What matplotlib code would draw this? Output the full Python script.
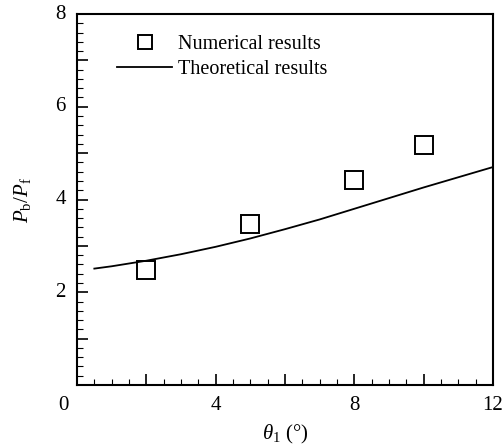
import matplotlib
matplotlib.use("Agg")
import matplotlib.pyplot as plt
from matplotlib.ticker import MultipleLocator
import numpy as np

plt.rcParams['font.family'] = ['Liberation Serif', 'DejaVu Serif']
plt.rcParams['mathtext.fontset'] = 'custom'
plt.rcParams['mathtext.rm'] = 'Liberation Serif'
plt.rcParams['mathtext.it'] = 'Liberation Serif:italic'

# Data
num_x = [2, 5, 8, 10]
num_y = [2.49, 3.48, 4.42, 5.17]
theo_x = [0.5, 1, 2, 3, 4, 5, 6, 7, 8, 9, 10, 11, 12]
theo_y = [2.51, 2.56, 2.68, 2.82, 2.98, 3.16, 3.36, 3.57, 3.80, 4.03, 4.26, 4.48, 4.70]
xtick_labels = ['4', '8', '12']
xtick_vals = [4, 8, 12]
ytick_vals = [2, 4, 6, 8]

fig = plt.figure(figsize=(5.04, 4.46), dpi=100)
ax = fig.add_axes([77/504, 61/446, 416/504, 371/446])

ax.plot(theo_x, theo_y, color='black', lw=1.3, label='Theoretical results')
ax.plot(num_x, num_y, linestyle='none', marker='s', markersize=13.5,
        markerfacecolor='none', markeredgecolor='black', markeredgewidth=1.4,
        label='Numerical results')

ax.set_xlim(0, 12)
ax.set_ylim(0, 8)

ax.xaxis.set_major_locator(MultipleLocator(2))
ax.xaxis.set_minor_locator(MultipleLocator(0.5))
ax.yaxis.set_major_locator(MultipleLocator(1))
ax.yaxis.set_minor_locator(MultipleLocator(0.2))
ax.set_xticklabels([])
ax.set_yticklabels([])
ax.tick_params(which='both', direction='in', top=False, right=False, width=1.2)
ax.tick_params(which='major', length=8)
ax.tick_params(which='minor', length=4.5, width=0.8)
for s in ax.spines.values():
    s.set_linewidth(1.5)

# tick labels as text
for v, lab in zip(xtick_vals, xtick_labels):
    ax.text(v, -0.24, lab, ha='center', va='top', fontsize=15)
for v in ytick_vals:
    ax.text(-0.32, v, str(v), ha='right', va='center', fontsize=15)
ax.text(-0.38, -0.24, '0', ha='center', va='top', fontsize=15)

ax.set_xlabel(r'$\theta_1$ (°)', fontsize=15, labelpad=24)
ax.set_ylabel(r'$P_\mathrm{b}/P_\mathrm{f}$', fontsize=15, labelpad=28)

h, l = ax.get_legend_handles_labels()
leg = ax.legend(h[::-1], l[::-1], loc='upper left', bbox_to_anchor=(0.096, 0.943),
                frameon=False, fontsize=14.5, handlelength=2.75, handletextpad=0.3,
                labelspacing=0.3, borderpad=0, borderaxespad=0, markerscale=0.72)

fig.savefig('out.png', dpi=100)
